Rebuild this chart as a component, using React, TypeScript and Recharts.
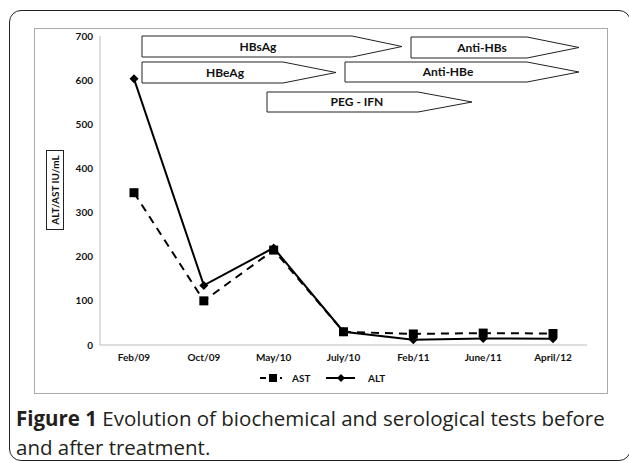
import React from 'react';
import { Line, LineChart, XAxis, YAxis } from 'recharts';

const months = ['Feb/09', 'Oct/09', 'May/10', 'July/10', 'Feb/11', 'June/11', 'April/12'];
const astValues = [345, 100, 215, 30, 25, 27, 26];
const altValues = [603, 135, 220, 30, 12, 15, 14];
const yTicks = [0, 100, 200, 300, 400, 500, 600, 700];
const bannerLabels = ['HBsAg', 'HBeAg', 'PEG - IFN', 'Anti-HBs', 'Anti-HBe'];

// banner geometry, same order as bannerLabels
const bannerBoxes = [
  { x0: 142, x1: 352, tip: 402, y0: 36, y1: 57, tx: 258 },
  { x0: 142, x1: 283, tip: 336, y0: 62, y1: 83, tx: 225 },
  { x0: 267, x1: 418, tip: 472, y0: 92, y1: 112, tx: 357 },
  { x0: 411, x1: 527, tip: 579, y0: 37, y1: 58, tx: 482 },
  { x0: 345, x1: 527, tip: 579, y0: 62, y1: 82, tx: 448 },
];

const data = months.map((m, i) => ({ m, ast: astValues[i], alt: altValues[i] }));

const FONT = 'Lato, "Open Sans", sans-serif';

function SquareDot(props: any) {
  const { cx, cy } = props;
  if (cx == null || cy == null) return null;
  return <rect x={cx - 4.5} y={cy - 4.5} width={9} height={9} fill="#000" />;
}

function DiamondDot(props: any) {
  const { cx, cy } = props;
  if (cx == null || cy == null) return null;
  const r = 4.5;
  return <polygon points={`${cx},${cy - r} ${cx + r},${cy} ${cx},${cy + r} ${cx - r},${cy}`} fill="#000" />;
}

function Banners() {
  return (
    <svg width={629} height={463} style={{ position: 'absolute', left: 0, top: 0, pointerEvents: 'none' }}>
      {bannerBoxes.map((b, i) => {
        const ym = (b.y0 + b.y1) / 2;
        return (
          <g key={bannerLabels[i]}>
            <polygon
              points={`${b.x0},${b.y0} ${b.x1},${b.y0} ${b.tip},${ym} ${b.x1},${b.y1} ${b.x0},${b.y1}`}
              fill="#fff"
              stroke="#222"
              strokeWidth={1}
            />
            <text x={b.tx} y={ym + 4} textAnchor="middle" fontFamily={FONT} fontWeight={700} fontSize={12} fill="#111">
              {bannerLabels[i]}
            </text>
          </g>
        );
      })}
    </svg>
  );
}

function LegendRow() {
  return (
    <svg width={629} height={463} style={{ position: 'absolute', left: 0, top: 0, pointerEvents: 'none' }}>
      <line x1={260} y1={378} x2={282} y2={378} stroke="#000" strokeWidth={2} strokeDasharray="6 4" />
      <rect x={269} y={374} width={8} height={8} fill="#000" />
      <text x={292} y={382} fontFamily={FONT} fontWeight={700} fontSize={10} fill="#111">AST</text>
      <line x1={326} y1={378} x2={355} y2={378} stroke="#000" strokeWidth={2} />
      <polygon points="341,374 345,378 341,382 337,378" fill="#000" />
      <text x={368} y={382} fontFamily={FONT} fontWeight={700} fontSize={10} fill="#111">ALT</text>
    </svg>
  );
}

export default function App() {
  return (
    <div style={{ position: 'absolute', left: 0, top: 0, width: 629, height: 463, background: '#fff', overflow: 'hidden' }}>
      <div
        style={{
          position: 'absolute',
          left: 9,
          top: 10,
          width: 620,
          height: 449,
          border: '1.5px solid #222',
          borderRadius: 12,
        }}
      />
      <div
        style={{
          position: 'absolute',
          left: 34,
          top: 28,
          width: 572,
          height: 364,
          border: '1px solid #aaa',
        }}
      />
      <div style={{ position: 'absolute', left: 0, top: 0 }}>
        <LineChart width={629} height={463} data={data} margin={{ top: 36, right: 42, bottom: 88, left: 40 }}>
          <XAxis
            dataKey="m"
            axisLine={{ stroke: '#bbb' }}
            tickLine={false}
            tickSize={0}
            tickMargin={9}
            height={30}
            interval={0}
            padding={{ left: 34, right: 34 }}
            tick={{ fill: '#111', fontSize: 10, fontWeight: 700, fontFamily: FONT }}
          />
          <YAxis
            domain={[0, 700]}
            ticks={yTicks}
            width={60}
            axisLine={{ stroke: '#bbb' }}
            tickLine={false}
            tickSize={0}
            tickMargin={7}
            tick={{ fill: '#111', fontSize: 10, fontWeight: 700, fontFamily: FONT }}
          />
          <Line
            dataKey="ast"
            stroke="#000"
            strokeWidth={2}
            strokeDasharray="8 6"
            dot={<SquareDot />}
            isAnimationActive={false}
          />
          <Line dataKey="alt" stroke="#000" strokeWidth={2} dot={<DiamondDot />} isAnimationActive={false} />
        </LineChart>
      </div>
      <Banners />
      <LegendRow />
      <div
        style={{
          position: 'absolute',
          left: 46,
          top: 150,
          width: 18,
          height: 80,
          border: '1px solid #222',
          boxSizing: 'border-box',
          display: 'flex',
          alignItems: 'center',
          justifyContent: 'center',
          background: '#fff',
        }}
      >
        <span
          style={{
            transform: 'rotate(-90deg)',
            whiteSpace: 'nowrap',
            fontFamily: FONT,
            fontWeight: 700,
            fontSize: 10,
            color: '#111',
          }}
        >
          ALT/AST IU/mL
        </span>
      </div>
      <div
        style={{
          position: 'absolute',
          left: 16,
          top: 404,
          width: 610,
          fontFamily: '"Open Sans", sans-serif',
          fontSize: 20.5,
          lineHeight: '29px',
          color: '#231f20',
          whiteSpace: 'nowrap',
        }}
      >
        <b>Figure 1</b> Evolution of biochemical and serological tests before
        <br />
        and after treatment.
      </div>
    </div>
  );
}
